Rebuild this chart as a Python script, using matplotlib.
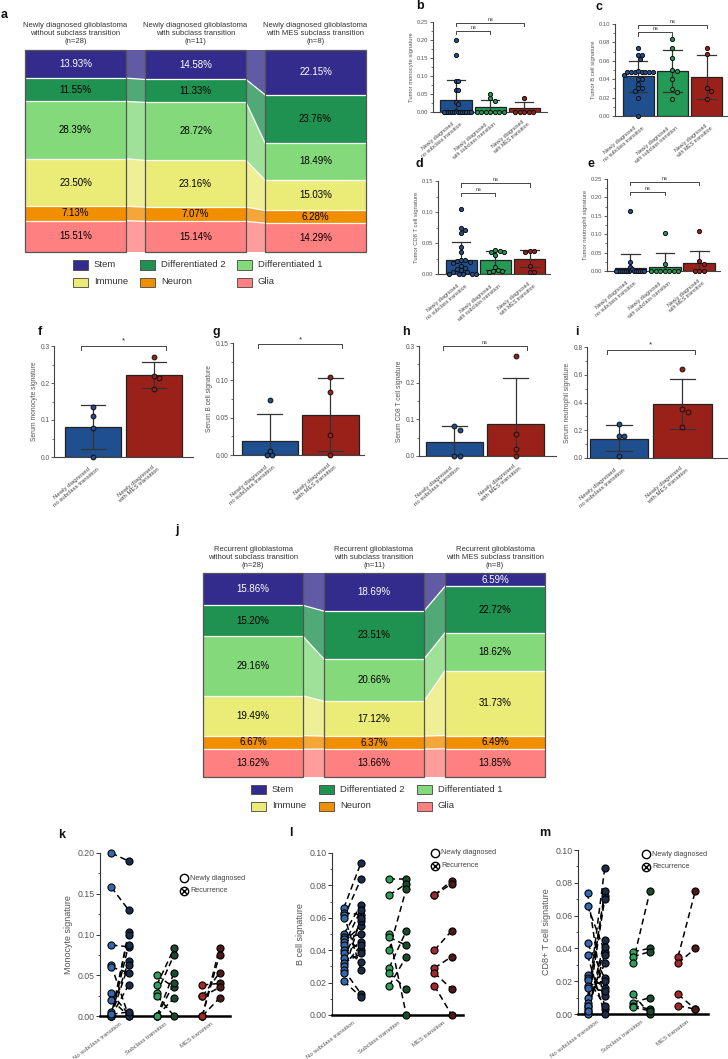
import numpy as np
import matplotlib
matplotlib.use('Agg')
import matplotlib.pyplot as plt
from matplotlib.patches import Rectangle, Polygon
from matplotlib.ticker import FixedLocator

plt.rcParams['font.family'] = ['Liberation Sans', 'DejaVu Sans']

# ---------------- data ----------------
cell_types = ['Stem', 'Differentiated 2', 'Differentiated 1', 'Immune', 'Neuron', 'Glia']
cell_colors = ['#342c8c', '#1f9150', '#84d97b', '#ebeb78', '#f28f00', '#ff8080']
cell_text_colors = ['white', 'black', 'black', 'black', 'black', 'black']

newly_titles = ['Newly diagnosed glioblastoma\nwithout subclass transition\n(n=28)',
                'Newly diagnosed glioblastoma\nwith subclass transition\n(n=11)',
                'Newly diagnosed glioblastoma\nwith MES subclass transition\n(n=8)']
newly_no_sub = [13.93, 11.55, 28.39, 23.50, 7.13, 15.51]
newly_sub = [14.58, 11.33, 28.72, 23.16, 7.07, 15.14]
newly_mes = [22.15, 23.76, 18.49, 15.03, 6.28, 14.29]

recur_titles = ['Recurrent glioblastoma\nwithout subclass transition\n(n=28)',
                'Recurrent glioblastoma\nwith subclass transition\n(n=11)',
                'Recurrent glioblastoma\nwith MES subclass transition\n(n=8)']
recur_no_sub = [15.86, 15.20, 29.16, 19.49, 6.67, 13.62]
recur_sub = [18.69, 23.51, 20.66, 17.12, 6.37, 13.66]
recur_mes = [6.59, 22.72, 18.62, 31.73, 6.49, 13.85]

tumor_groups = ['Newly diagnosed\nno subclass transition',
                'Newly diagnosed\nwith subclass transition',
                'Newly diagnosed\nwith MES transition']
serum_groups = ['Newly diagnosed\nno subclass transition',
                'Newly diagnosed\nwith MES transition']

# b: tumor monocyte
b_mean = [0.033, 0.015, 0.010]
b_low = [-0.03, -0.005, -0.008]
b_high = [0.090, 0.034, 0.027]
b_pts = [[0.200, 0.158, 0.087, 0.086, 0.062, 0.060, 0.028, 0.021, 0.003,
          0, 0, 0, 0, 0, 0, 0, 0, 0, 0, 0, 0, 0],
         [0.050, 0.038, 0.030, 0, 0, 0, 0, 0, 0, 0],
         [0.039, 0, 0, 0, 0, 0]]
# c: tumor B cell
c_mean = [0.043, 0.049, 0.042]
c_low = [0.026, 0.026, 0.019]
c_high = [0.060, 0.072, 0.066]
c_pts = [[0.074, 0.066, 0.066, 0.062, 0.048, 0.048, 0.048, 0.048, 0.049, 0.048,
          0.048, 0.048, 0.045, 0.040, 0.040, 0.035, 0.030, 0.030, 0.027, 0.020, 0.000],
         [0.084, 0.074, 0.063, 0.050, 0.049, 0.040, 0.029, 0.026, 0.018],
         [0.074, 0.067, 0.030, 0.027, 0.019]]
# d: tumor CD8 T cell
d_mean = [0.023, 0.022, 0.025]
d_low = [-0.006, 0.007, 0.012]
d_high = [0.052, 0.037, 0.038]
d_pts = [[0.105, 0.075, 0.071, 0.066, 0.043, 0.035, 0.023, 0.021, 0.022, 0.019,
          0.017, 0.013, 0.010, 0.008, 0.006, 0.004, 0.003, 0, 0, 0, 0, 0],
         [0.038, 0.037, 0.036, 0.035, 0.030, 0.012, 0.006, 0.005, 0.004, 0.005],
         [0.037, 0.037, 0.036, 0.013, 0.004, 0.003]]
# e: tumor neutrophil
e_mean = [0.008, 0.012, 0.022]
e_low = [-0.03, -0.025, -0.01]
e_high = [0.046, 0.048, 0.055]
e_pts = [[0.164, 0.024, 0.010, 0.006, 0, 0, 0, 0, 0, 0, 0, 0, 0, 0, 0, 0, 0, 0],
         [0.103, 0.020, 0, 0, 0, 0, 0, 0, 0],
         [0.108, 0.026, 0.018, 0, 0, 0]]
# f-i: serum
f_mean = [0.081, 0.221]
f_low = [0.022, 0.186]
f_high = [0.140, 0.258]
f_pts = [[0.135, 0.111, 0.079, 0.0], [0.270, 0.220, 0.213, 0.184]]
g_mean = [0.019, 0.054]
g_low = [-0.02, 0.005]
g_high = [0.055, 0.103]
g_pts = [[0.073, 0.006, 0.0, 0.0], [0.104, 0.085, 0.027, 0.0]]
h_mean = [0.037, 0.086]
h_low = [-0.01, -0.04]
h_high = [0.083, 0.214]
h_pts = [[0.082, 0.072, 0.0, 0.0], [0.272, 0.060, 0.018, 0.0]]
i_mean = [0.140, 0.387]
i_low = [0.050, 0.210]
i_high = [0.240, 0.567]
i_pts = [[0.245, 0.160, 0.155, 0.015], [0.645, 0.352, 0.332, 0.225]]

# k-m: paired newly diagnosed -> recurrence
pair_groups = ['No subclass transition', 'Subclass transition', 'MES transition']
k_newly = [[0.200, 0.158, 0.087, 0.062, 0.060, 0.028, 0.020, 0.005, 0.000, 0.000, 0.000, 0.000, 0.000, 0.002],
           [0.050, 0.038, 0.028, 0.025, 0.000, 0.000, 0.000],
           [0.038, 0.024, 0.000, 0.000, 0.024, 0.000]]
k_recur = [[0.190, 0.130, 0.085, 0.000, 0.053, 0.002, 0.000, 0.067, 0.103, 0.100, 0.087, 0.063, 0.038, 0.005],
           [0.035, 0.083, 0.075, 0.000, 0.053, 0.040, 0.022],
           [0.040, 0.035, 0.083, 0.075, 0.053, 0.022]]
l_newly = [[0.066, 0.063, 0.062, 0.060, 0.050, 0.048, 0.047, 0.045, 0.043, 0.040, 0.038, 0.035, 0.032, 0.030, 0.028, 0.026, 0.021],
           [0.084, 0.074, 0.050, 0.048, 0.040, 0.029, 0.026, 0.018],
           [0.074, 0.074, 0.040, 0.029, 0.026, 0.018]]
l_recur = [[0.094, 0.062, 0.028, 0.084, 0.068, 0.040, 0.050, 0.055, 0.065, 0.033, 0.045, 0.058, 0.038, 0.043, 0.013, 0.060, 0.011],
           [0.084, 0.081, 0.000, 0.043, 0.078, 0.052, 0.016, 0.036],
           [0.083, 0.081, 0.052, 0.036, 0.016, 0.000]]
m_newly = [[0.074, 0.066, 0.043, 0.036, 0.024, 0.022, 0.021, 0.017, 0.016, 0.010, 0.007, 0.005, 0.003, 0.001, 0.000, 0.005, 0.002],
           [0.038, 0.035, 0.031, 0.012, 0.007, 0.005, 0.004],
           [0.035, 0.031, 0.012, 0.005]]
m_recur = [[0.003, 0.038, 0.022, 0.000, 0.016, 0.005, 0.011, 0.020, 0.014, 0.072, 0.089, 0.075, 0.070, 0.045, 0.041, 0.031, 0.036],
           [0.040, 0.038, 0.075, 0.000, 0.010, 0.003, 0.002],
           [0.075, 0.040, 0.003, 0.003]]

bar_colors3 = ['#1f4f8f', '#239a55', '#9a2119']
bar_colors2 = ['#1f4f8f', '#9a2119']
newly_pt_colors = ['#3568aa', '#2f9e5e', '#a3282a']
recur_pt_colors = ['#1b2c4a', '#1b4a2f', '#4d1818']

# ---------------- figure ----------------
W, H = 728, 1059
fig = plt.figure(figsize=(W / 100, H / 100), dpi=100)


def add_ax(x0, y0, x1, y1):
    return fig.add_axes([x0 / W, 1 - y1 / H, (x1 - x0) / W, (y1 - y0) / H])


def ftext(x, y, s, **kw):
    return fig.text(x / W, 1 - y / H, s, **kw)


def letter(x, y, s):
    ftext(x, y, s, fontsize=9, fontweight='bold', ha='left', va='center', color='#111')


def draw_alluvial(box, cols, titles, col_w, gap, title_y):
    x0, y0, x1, y1 = box
    ax = add_ax(x0, y0, x1, y1)
    ax.set_xlim(0, x1 - x0)
    ax.set_ylim(100, 0)
    ax.axis('off')
    lefts = [i * (col_w + gap) for i in range(len(cols))]
    bounds = []
    for v in cols:
        v = np.asarray(v, float)
        v = v / v.sum() * 100
        bounds.append(np.concatenate([[0], np.cumsum(v)]))
    for i in range(len(cols) - 1):
        xa = lefts[i] + col_w
        xb = lefts[i + 1]
        for k in range(len(cell_types)):
            ax.add_patch(Polygon([(xa, bounds[i][k]), (xb, bounds[i + 1][k]),
                                  (xb, bounds[i + 1][k + 1]), (xa, bounds[i][k + 1])],
                                 closed=True, facecolor=cell_colors[k], alpha=0.78,
                                 edgecolor='none', zorder=1))
        for k in range(1, len(cell_types)):
            ax.plot([xa, xb], [bounds[i][k], bounds[i + 1][k]], color='white', lw=0.9, zorder=2)
    for i, v in enumerate(cols):
        b = bounds[i]
        for k in range(len(cell_types)):
            ax.add_patch(Rectangle((lefts[i], b[k]), col_w, b[k + 1] - b[k],
                                   facecolor=cell_colors[k], edgecolor='none', zorder=3))
            ax.text(lefts[i] + col_w / 2, (b[k] + b[k + 1]) / 2, f'{v[k]:.2f}%',
                    ha='center', va='center', fontsize=7, color=cell_text_colors[k], zorder=5)
        for k in range(1, len(cell_types)):
            ax.plot([lefts[i], lefts[i] + col_w], [b[k], b[k]], color='white', lw=0.9, zorder=4)
        ax.add_patch(Rectangle((lefts[i], 0), col_w, 100, facecolor='none',
                               edgecolor='#555555', lw=0.9, zorder=6, clip_on=False))
        ftext(x0 + lefts[i] + col_w / 2, title_y, titles[i], ha='center', va='center',
              fontsize=5.5, color='#333', linespacing=1.25)


def draw_legend(box_xs, row_ys):
    for k, name in enumerate(cell_types):
        r, c = divmod(k, 3)
        bx = box_xs[c]
        by = row_ys[r]
        fig.add_artist(Rectangle((bx / W, 1 - (by + 4.5) / H), 15 / W, 9 / H,
                                 transform=fig.transFigure, facecolor=cell_colors[k],
                                 edgecolor='#444', lw=0.6))
        ftext(bx + 21, by, name, fontsize=6.8, va='center', ha='left', color='#333')


def swarm_offsets(vals, ppx, ppy, d, maxw):
    vals = np.asarray(vals, float)
    order = np.argsort(-vals, kind='stable')
    placed = []
    offs = np.zeros(len(vals))
    steps = [0.0]
    for kk in range(1, 80):
        steps += [kk * d * 0.5, -kk * d * 0.5]
    for idx in order:
        y = vals[idx] * ppy
        cpos = 0.0
        for cpos in steps:
            if all((cpos - px) ** 2 + (y - py) ** 2 >= (d * 0.95) ** 2 for px, py in placed):
                break
        placed.append((cpos, y))
        offs[idx] = cpos
    m = np.abs(offs).max()
    if m > maxw / 2:
        offs *= (maxw / 2) / m
    return offs / ppx


def bar_panel(box, means, lows, highs, pts, colors, xlim, ylim, yticks, fmt, ylabel,
              xlabels, brackets, fs_tick, fs_lab, fs_x, capw, msize, mind, br_ext=0.0):
    x0, y0, x1, y1 = box
    ax = add_ax(*box)
    n = len(means)
    xs = np.arange(n)
    ax.bar(xs, means, width=0.92, color=colors, edgecolor='#222', lw=0.9, zorder=2)
    ppx = (x1 - x0) / (xlim[1] - xlim[0])
    ppy = (y1 - y0) / (ylim[1] - ylim[0])
    for i in range(n):
        ax.plot([xs[i], xs[i]], [lows[i], highs[i]], color='#333', lw=0.9, zorder=3)
        for yv in (lows[i], highs[i]):
            ax.plot([xs[i] - capw, xs[i] + capw], [yv, yv], color='#333', lw=0.9, zorder=3)
        offs = swarm_offsets(pts[i], ppx, ppy, mind, 0.85 * ppx)
        ax.scatter(xs[i] + offs, pts[i], s=msize, facecolor=colors[i], edgecolor='#111',
                   lw=0.7, zorder=4, clip_on=False)
    for s in ['top', 'right']:
        ax.spines[s].set_visible(False)
    for s in ['left', 'bottom']:
        ax.spines[s].set_color('#444')
        ax.spines[s].set_linewidth(0.8)
    ax.set_xlim(xlim)
    ax.set_ylim(ylim)
    ax.set_yticks(yticks)
    ax.set_yticklabels([fmt.format(t) for t in yticks])
    ax.yaxis.set_minor_locator(FixedLocator(
        [(yticks[j] + yticks[j + 1]) / 2 for j in range(len(yticks) - 1)]))
    ax.tick_params(axis='y', which='major', labelsize=fs_tick, colors='#444', labelcolor='#555',
                   length=2.2, width=0.6, pad=1)
    ax.tick_params(axis='y', which='minor', length=1.2, width=0.5, colors='#444')
    ax.set_xticks(xs)
    ax.set_xticklabels(xlabels, rotation=40, ha='right', rotation_mode='anchor',
                       fontsize=fs_x, color='#444', ma='center', linespacing=1.1)
    ax.tick_params(axis='x', length=0, pad=4)
    ax.set_ylabel(ylabel, fontsize=fs_lab, color='#555', labelpad=2)
    span = ylim[1] - ylim[0]
    for (a, b, yv, txt) in brackets:
        a2 = a - br_ext
        b2 = b + br_ext
        ax.plot([a2, a2, b2, b2], [yv - 0.035 * span, yv, yv, yv - 0.035 * span],
                color='#444', lw=0.7, clip_on=False)
        ax.text((a2 + b2) / 2, yv + 0.012 * span, txt, ha='center', va='bottom',
                fontsize=4 if txt == 'ns' else 6, color='#333', clip_on=False)
    return ax


def paired_panel(box, newly, recur, xlim, ylim, yticks, minor_step, fmt, ylabel, leg_xy):
    ax = add_ax(*box)
    off = 0.19
    for g in range(3):
        for a, b in zip(newly[g], recur[g]):
            ax.plot([g - off, g + off], [a, b], ls=(0, (4, 2.5)), color='black', lw=1.1,
                    zorder=2, clip_on=False)
        ax.scatter([g - off] * len(newly[g]), newly[g], s=26, facecolor=newly_pt_colors[g],
                   edgecolor='black', lw=0.8, zorder=3, clip_on=False)
        ax.scatter([g + off] * len(recur[g]), recur[g], s=26, facecolor=recur_pt_colors[g],
                   edgecolor='black', lw=0.8, zorder=3, clip_on=False)
    for s in ['top', 'right']:
        ax.spines[s].set_visible(False)
    ax.spines['left'].set_color('#333')
    ax.spines['left'].set_linewidth(0.8)
    ax.spines['bottom'].set_color('black')
    ax.spines['bottom'].set_linewidth(1.8)
    ax.set_xlim(xlim)
    ax.set_ylim(ylim)
    ax.set_yticks(yticks)
    ax.set_yticklabels([fmt.format(t) for t in yticks])
    ax.yaxis.set_minor_locator(FixedLocator(np.arange(ylim[0], ylim[1] + 1e-9, minor_step)))
    ax.tick_params(axis='y', which='major', labelsize=6.3, colors='#333', labelcolor='#555',
                   length=3, width=0.7, pad=1)
    ax.tick_params(axis='y', which='minor', length=1.8, width=0.6, colors='#333')
    ax.set_xticks(range(3))
    ax.set_xticklabels(pair_groups, rotation=37, ha='right', rotation_mode='anchor',
                       fontsize=4.3, color='#555')
    ax.tick_params(axis='x', length=0, pad=4)
    ax.set_ylabel(ylabel, fontsize=6.5, color='#555', labelpad=3)
    lx, ly = leg_xy
    for j, lab in enumerate(['Newly diagnosed', 'Recurrence']):
        yy = ly + j * 12.5
        ax.plot([lx / W], [1 - yy / H], marker='o', ms=6, mfc='white', mec='black', mew=1.0,
                transform=fig.transFigure, clip_on=False)
        if j == 1:
            ax.plot([lx / W], [1 - yy / H], marker='x', ms=4, mec='black', mew=1.0,
                    transform=fig.transFigure, clip_on=False)
        ftext(lx + 6, yy, lab, fontsize=5.2, va='center', ha='left', color='#444')
    return ax


# ---- panel a ----
letter(1, 15, 'a')
draw_alluvial((25, 50, 366, 252), [newly_no_sub, newly_sub, newly_mes], newly_titles, 101, 19, 33.5)
draw_legend([73, 140, 237], [265, 282])

# ---- panels b-e ----
letter(416, 6, 'b')
bar_panel((433, 22, 547, 112), b_mean, b_low, b_high, b_pts, bar_colors3, (-0.68, 2.67),
          (0, 0.25), [0, 0.05, 0.10, 0.15, 0.20, 0.25], '{:.2f}', 'Tumor monocyte signature',
          tumor_groups, [(0, 1, 0.225, 'ns'), (0, 2, 0.248, 'ns')], 4.2, 4.2, 3.8, 0.27, 9, 4.5)
letter(596, 7, 'c')
bar_panel((615, 24, 727, 116), c_mean, c_low, c_high, c_pts, bar_colors3, (-0.68, 2.6),
          (0, 0.10), [0, 0.02, 0.04, 0.06, 0.08, 0.10], '{:.2f}', 'Tumor B cell signature',
          tumor_groups, [(0, 1, 0.091, 'ns'), (0, 2, 0.099, 'ns')], 4.2, 4.2, 3.8, 0.27, 9, 4.5)
letter(416, 164, 'd')
bar_panel((438, 181, 550, 274), d_mean, d_low, d_high, d_pts, bar_colors3, (-0.68, 2.6),
          (0, 0.15), [0, 0.05, 0.10, 0.15], '{:.2f}', 'Tumor CD8 T cell signature',
          tumor_groups, [(0, 1, 0.131, 'ns'), (0, 2, 0.146, 'ns')], 4.2, 4.2, 3.8, 0.27, 9, 4.5)
letter(588, 164, 'e')
bar_panel((607, 179, 720, 271), e_mean, e_low, e_high, e_pts, bar_colors3, (-0.68, 2.6),
          (0, 0.25), [0, 0.05, 0.10, 0.15, 0.20, 0.25], '{:.2f}', 'Tumor neutrophil signature',
          tumor_groups, [(0, 1, 0.215, 'ns'), (0, 2, 0.242, 'ns')], 4.2, 4.2, 3.8, 0.27, 9, 4.5)

# ---- panels f-i ----
letter(38, 332, 'f')
bar_panel((54, 346, 193, 457), f_mean, f_low, f_high, f_pts, bar_colors2, (-0.64, 1.64),
          (0, 0.3), [0, 0.1, 0.2, 0.3], '{:.1f}', 'Serum monocyte signature',
          serum_groups, [(0, 1, 0.3, '*')], 4.8, 4.8, 4.3, 0.2, 12, 5.5, br_ext=0.19)
letter(212, 332, 'g')
bar_panel((233, 343, 364, 455), g_mean, g_low, g_high, g_pts, bar_colors2, (-0.6, 1.55),
          (0, 0.15), [0, 0.05, 0.10, 0.15], '{:.2f}', 'Serum B cell signature',
          serum_groups, [(0, 1, 0.148, '*')], 4.8, 4.8, 4.3, 0.2, 12, 5.5, br_ext=0.19)
letter(402, 332, 'h')
bar_panel((419, 346, 556, 456), h_mean, h_low, h_high, h_pts, bar_colors2, (-0.58, 1.66),
          (0, 0.3), [0, 0.1, 0.2, 0.3], '{:.1f}', 'Serum CD8 T cell signature',
          serum_groups, [(0, 1, 0.3, 'ns')], 4.8, 4.8, 4.3, 0.2, 12, 5.5, br_ext=0.19)
letter(575, 332, 'i')
bar_panel((587, 347, 727, 458), i_mean, i_low, i_high, i_pts, bar_colors2, (-0.5, 1.7),
          (0, 0.8), [0, 0.2, 0.4, 0.6, 0.8], '{:.1f}', 'Serum neutrophil signature',
          serum_groups, [(0, 1, 0.78, '*')], 4.8, 4.8, 4.3, 0.2, 12, 5.5, br_ext=0.19)

# ---- panel j ----
letter(175, 530, 'j')
draw_alluvial((203, 573, 545, 777), [recur_no_sub, recur_sub, recur_mes], recur_titles, 100, 21, 557.5)
draw_legend([251, 319, 417], [789, 806])

# ---- panels k-m ----
letter(58, 835, 'k')
paired_panel((100, 853, 230, 1016), k_newly, k_recur, (-0.44, 2.42), (0, 0.20),
             [0, 0.05, 0.10, 0.15, 0.20], 0.025, '{:.2f}', 'Monocyte signature', (184, 878))
letter(289, 833, 'l')
paired_panel((332, 853, 463, 1015), l_newly, l_recur, (-0.45, 2.44), (0, 0.10),
             [0, 0.02, 0.04, 0.06, 0.08, 0.10], 0.01, '{:.2f}', 'B cell signature', (435, 853))
letter(539, 833, 'm')
paired_panel((578, 850, 708, 1014), m_newly, m_recur, (-0.4, 2.47), (0, 0.10),
             [0, 0.02, 0.04, 0.06, 0.08, 0.10], 0.01, '{:.2f}', 'CD8+ T cell signature', (646, 854))

fig.savefig('out.png', dpi=100)
